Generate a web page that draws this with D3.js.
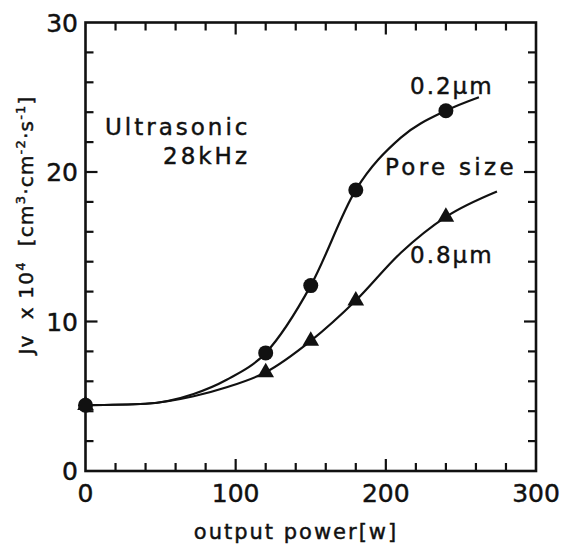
<!DOCTYPE html>
<html>
<head>
<meta charset="utf-8">
<script src="https://cdn.jsdelivr.net/npm/d3@7"></script>
<style>
  html, body { margin: 0; padding: 0; background: #fff; }
  svg text { font-family: "DejaVu Sans", sans-serif; fill: #111; stroke: #111; stroke-width: 0.45px; white-space: pre; }
</style>
</head>
<body>
<svg id="chart" width="562" height="546"></svg>
<script>
// Measured permeate flux Jv (x10^4 cm3·cm-2·s-1) vs ultrasonic output power (W)
const power = [0, 120, 150, 180, 240];
const flux02 = [4.4, 7.9, 12.4, 18.8, 24.1];   // 0.2 µm membrane
const flux08 = [4.4, 6.6, 8.7, 11.4, 17.0];    // 0.8 µm membrane

// Hand-drawn trend curves (knots along each fitted line)
const fitPower02 = [0, 40, 72, 94, 120, 150, 180, 210, 240, 262];
const fitFlux02  = [4.4, 4.5, 5.15, 6.1, 7.9, 12.4, 18.8, 22.3, 24.1, 25.0];
const fitPower08 = [0, 40, 72, 94, 120, 150, 180, 210, 240, 274];
const fitFlux08  = [4.4, 4.5, 5.0, 5.6, 6.6, 8.7, 11.4, 14.6, 17.0, 18.7];

const xTicks = [0, 100, 200, 300];
const yTicks = [0, 10, 20, 30];

const svg = d3.select("#chart");
const plotL = 85.5, plotR = 536, plotT = 22.5, plotB = 471;

const x = d3.scaleLinear().domain([0, 300]).range([plotL, plotR]);
const y = d3.scaleLinear().domain([0, 30]).range([plotB, plotT]);

// Frame
svg.append("rect")
  .attr("x", plotL).attr("y", plotT)
  .attr("width", plotR - plotL).attr("height", plotB - plotT)
  .attr("fill", "none").attr("stroke", "#111").attr("stroke-width", 2.6);

// Inward ticks on all four sides
const xMinor = d3.range(20, 300, 20);
const yMinor = d3.range(2, 30, 2);
const tickLen = v => (v % 100 === 0 ? 12 : 8);
const tickLenY = v => (v % 10 === 0 ? 12 : 8);
const ticks = svg.append("g").attr("stroke", "#111").attr("stroke-width", 2.2);
xMinor.forEach(v => {
  ticks.append("line").attr("x1", x(v)).attr("x2", x(v))
    .attr("y1", plotB).attr("y2", plotB - tickLen(v));
  ticks.append("line").attr("x1", x(v)).attr("x2", x(v))
    .attr("y1", plotT).attr("y2", plotT + tickLen(v));
});
yMinor.forEach(v => {
  ticks.append("line").attr("y1", y(v)).attr("y2", y(v))
    .attr("x1", plotL).attr("x2", plotL + tickLenY(v));
  ticks.append("line").attr("y1", y(v)).attr("y2", y(v))
    .attr("x1", plotR).attr("x2", plotR - tickLenY(v));
});

// Tick labels
svg.append("g").selectAll("text").data(xTicks).join("text")
  .attr("x", d => x(d)).attr("y", 502)
  .attr("text-anchor", "middle").attr("font-size", 25)
  .text(d => d);
svg.append("g").selectAll("text").data(yTicks).join("text")
  .attr("x", 78).attr("y", d => y(d) + 9)
  .attr("text-anchor", "end").attr("font-size", 25)
  .text(d => d);

// Axis titles
svg.append("text")
  .attr("x", 296).attr("y", 539)
  .attr("text-anchor", "middle").attr("font-size", 21)
  .attr("letter-spacing", 2)
  .text("output power[w]");

const yt = svg.append("text")
  .attr("transform", "translate(33,225) rotate(-90)")
  .attr("text-anchor", "middle").attr("font-size", 20)
  .attr("letter-spacing", 1.2);
const parts = [["Jv", 0], ["  x 10", 0], ["4", 1], ["  [cm", 0], ["3", 1], ["·cm", 0], ["-2", 1], ["·s", 0], ["-1", 1], ["]", 0]];
parts.forEach(([t, sup], i) => {
  const s = yt.append("tspan").text(t);
  if (sup) s.attr("dy", -8).attr("font-size", 13);
  else if (i > 0 && parts[i - 1][1]) s.attr("dy", 8);
});

// Trend curves
const line = d3.line().x(d => x(d[0])).y(d => y(d[1])).curve(d3.curveMonotoneX);
svg.append("path")
  .attr("d", line(d3.zip(fitPower02, fitFlux02)))
  .attr("fill", "none").attr("stroke", "#111").attr("stroke-width", 2.2);
svg.append("path")
  .attr("d", line(d3.zip(fitPower08, fitFlux08)))
  .attr("fill", "none").attr("stroke", "#111").attr("stroke-width", 2.2);

// Markers
svg.append("g").selectAll("path").data(d3.zip(power, flux08)).join("path")
  .attr("transform", d => `translate(${x(d[0])},${y(d[1])})`)
  .attr("d", d3.symbol(d3.symbolTriangle, 120)())
  .attr("fill", "#111");
svg.append("g").selectAll("circle").data(d3.zip(power, flux02)).join("circle")
  .attr("cx", d => x(d[0])).attr("cy", d => y(d[1])).attr("r", 7.5)
  .attr("fill", "#111");

// Annotations
const note = (t, px, py, size, ls, anchor) => svg.append("text")
  .attr("x", px).attr("y", py).attr("font-size", size)
  .attr("letter-spacing", ls).attr("text-anchor", anchor || "start").text(t);
note("Ultrasonic", 105, 135, 23, 3);
note("28kHz", 250, 164, 23, 3, "end");
note("0.2μm", 410, 94, 23, 2);
note("Pore size", 385, 175, 23, 3.3);
note("0.8μm", 410, 263, 23, 2);
</script>
</body>
</html>
